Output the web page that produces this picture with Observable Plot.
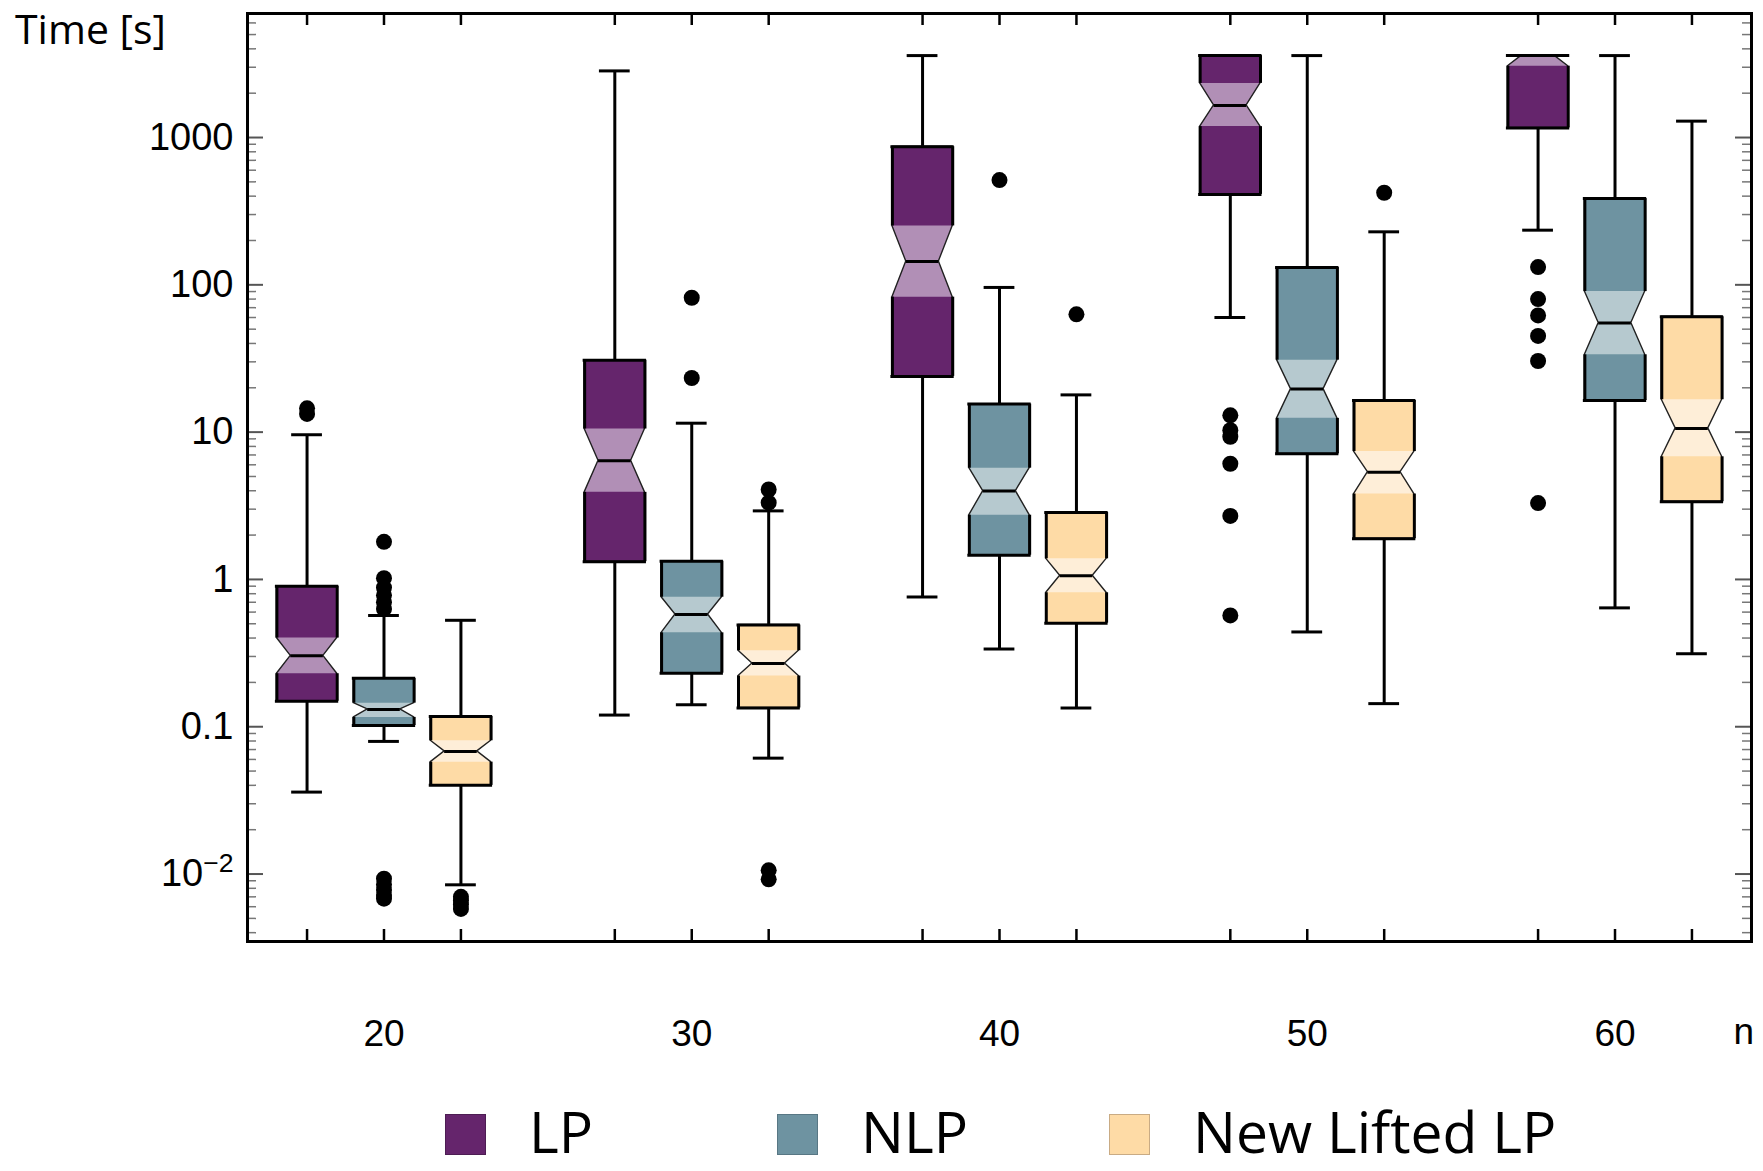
<!DOCTYPE html>
<html>
<head>
<meta charset="utf-8">
<script src="https://cdn.jsdelivr.net/npm/d3@7"></script>
<script src="https://cdn.jsdelivr.net/npm/@observablehq/plot@0.6"></script>
<style>
  html, body { margin: 0; padding: 0; background: white; }
  #wrap { position: relative; width: 1763px; height: 1171px; overflow: hidden; background: white; }
  #title { position: absolute; left: 15px; top: 0px; font-family: "Open Sans", sans-serif; font-size: 41px; line-height: normal; color: #000; white-space: nowrap; }
  .sw { position: absolute; width: 41px; height: 41px; box-sizing: border-box; }
  .lt { position: absolute; font-family: "Open Sans", sans-serif; font-size: 57px; line-height: normal; color: #000; white-space: nowrap; }
</style>
</head>
<body>
<div id="wrap">
  <div id="chart"></div>
  <div id="title">Time [s]</div>
  <div id="legend"></div>
</div>
<script>
// ---------- data ----------
const ns = [20, 30, 40, 50, 60];
const methods = ["LP", "NLP", "New Lifted LP"];
const yTicks = [0.01, 0.1, 1, 10, 100, 1000];

// LP
const lpLow     = [0.036, 0.12, 0.76, 60, 235];
const lpQ1      = [0.149, 1.32, 23.9, 411, 1162];
const lpNotchLo = [0.229, 3.9, 82.5, 1186, 3050];
const lpMedian  = [0.303, 6.4, 144, 1652, 3600];
const lpNotchHi = [0.40, 10.5, 251, 2330, 3600];
const lpQ3      = [0.90, 30.8, 866, 3600, 3600];
const lpHigh    = [9.6, 2833, 3600, 3600, 3600];
const lpOutliers = [[14.5, 13.3], [], [], [13.0, 10.3, 9.3, 6.1, 2.7, 0.57], [132, 80, 62, 45, 30.4, 3.3]];

// NLP
const nlpLow     = [0.0795, 0.141, 0.337, 0.44, 0.641];
const nlpQ1      = [0.102, 0.231, 1.46, 7.12, 16.4];
const nlpNotchLo = [0.1157, 0.434, 2.73, 12.4, 33.5];
const nlpMedian  = [0.131, 0.578, 3.98, 19.6, 55];
const nlpNotchHi = [0.1446, 0.757, 5.69, 30.8, 90];
const nlpQ3      = [0.213, 1.33, 15.5, 131, 385];
const nlpHigh    = [0.569, 11.5, 96, 3600, 3600];
const nlpOutliers = [[1.8, 1.02, 0.88, 0.78, 0.70, 0.63, 0.0093, 0.0085, 0.0078, 0.0072, 0.0068], [81.7, 23.3], [514], [], []];

// New Lifted LP
const newLow     = [0.00845, 0.0612, 0.134, 0.1435, 0.313];
const newQ1      = [0.040, 0.134, 0.505, 1.89, 3.37];
const newNotchLo = [0.0575, 0.221, 0.812, 3.80, 6.8];
const newMedian  = [0.068, 0.269, 1.06, 5.35, 10.6];
const newNotchHi = [0.0803, 0.328, 1.38, 7.38, 16.6];
const newQ3      = [0.1175, 0.49, 2.85, 16.4, 60.7];
const newHigh    = [0.528, 2.92, 17.9, 229, 1292];
const newOutliers = [[0.0070, 0.0066, 0.0062, 0.0058], [4.08, 3.32, 0.0106, 0.0092], [63.1], [422], []];

// ---------- styles ----------
const darkColor  = {"LP": "#65256c", "NLP": "#6e93a1", "New Lifted LP": "#fedba6"};
const lightColor = {"LP": "#b18fb6", "NLP": "#b6c9cf", "New Lifted LP": "#feeed8"};
const swatchBorder = {"LP": "#4d1d53", "NLP": "#587784", "New Lifted LP": "#c9ab84"};
const offsets = {"LP": -2.5, "NLP": 0, "New Lifted LP": 2.5};
const HW = 0.98, NW = 0.53, CW = 0.5;

const series = [
  {method: "LP", low: lpLow, q1: lpQ1, nlo: lpNotchLo, med: lpMedian, nhi: lpNotchHi, q3: lpQ3, high: lpHigh, out: lpOutliers},
  {method: "NLP", low: nlpLow, q1: nlpQ1, nlo: nlpNotchLo, med: nlpMedian, nhi: nlpNotchHi, q3: nlpQ3, high: nlpHigh, out: nlpOutliers},
  {method: "New Lifted LP", low: newLow, q1: newQ1, nlo: newNotchLo, med: newMedian, nhi: newNotchHi, q3: newQ3, high: newHigh, out: newOutliers}
];

const boxes = series.flatMap(s => ns.map((n, i) => ({
  method: s.method, n, x: n + offsets[s.method],
  low: s.low[i], q1: s.q1[i], nlo: s.nlo[i], med: s.med[i], nhi: s.nhi[i], q3: s.q3[i], high: s.high[i]
})));
const outlierRows = series.flatMap(s => ns.flatMap((n, i) => s.out[i].map(v => ({x: n + offsets[s.method], y: v}))));

const full = (b, k, y, c) => ({id: k, y, x1: b.x - HW, x2: b.x + HW, c});
const narrow = (b, k, y, c) => ({id: k, y, x1: b.x - NW, x2: b.x + NW, c});
const shapePts = boxes.flatMap((b, k) => [
  full(b, k, b.q1, darkColor[b.method]), full(b, k, b.nlo, darkColor[b.method]),
  narrow(b, k, b.med, darkColor[b.method]), full(b, k, b.nhi, darkColor[b.method]),
  full(b, k, b.q3, darkColor[b.method])
]);
const notchPts = boxes.flatMap((b, k) => [
  full(b, k, b.nlo, lightColor[b.method]), narrow(b, k, b.med, lightColor[b.method]),
  full(b, k, b.nhi, lightColor[b.method])
]);

const yDomain = [Math.pow(10, -2.458), Math.pow(10, 3.842)];
const minorTicks = d3.range(-3, 4).flatMap(e => d3.range(2, 10).map(m => m * Math.pow(10, e)))
  .filter(v => v > yDomain[0] && v < yDomain[1]);
const boxPositions = boxes.map(b => b.x);

// ---------- layout ----------
const W = 1763, H = 1090, mL = 247, mR = 12, mT = 13, mB = H - 941;
const frameW = W - mL - mR, frameH = H - mT - mB;

const svg = Plot.plot({
  width: W, height: H,
  marginLeft: mL, marginRight: mR, marginTop: mT, marginBottom: mB,
  x: {domain: [15.565, 64.435], axis: null},
  y: {type: "log", domain: yDomain, axis: null},
  color: {type: "identity"},
  style: {fontFamily: "'Liberation Sans', Arial, sans-serif", background: "white", color: "black"},
  marks: [
    // whiskers
    Plot.ruleX(boxes, {x: "x", y1: "q3", y2: "high", stroke: "black", strokeWidth: 3}),
    Plot.ruleX(boxes, {x: "x", y1: "low", y2: "q1", stroke: "black", strokeWidth: 3}),
    Plot.ruleY(boxes, {y: "high", x1: d => d.x - CW, x2: d => d.x + CW, stroke: "black", strokeWidth: 3}),
    Plot.ruleY(boxes, {y: "low", x1: d => d.x - CW, x2: d => d.x + CW, stroke: "black", strokeWidth: 3}),
    // notched boxes
    Plot.areaX(shapePts, {y: "y", x1: "x1", x2: "x2", z: "id", fill: "c", curve: "linear"}),
    Plot.areaX(notchPts, {y: "y", x1: "x1", x2: "x2", z: "id", fill: "c", curve: "linear"}),
    Plot.areaX(shapePts, {y: "y", x1: "x1", x2: "x2", z: "id", fill: "none", stroke: "#222", strokeWidth: 1.4, curve: "linear"}),
    Plot.ruleY(boxes, {y: "q1", x1: d => d.x - HW, x2: d => d.x + HW, stroke: "black", strokeWidth: 3, strokeLinecap: "square"}),
    Plot.ruleY(boxes, {y: "q3", x1: d => d.x - HW, x2: d => d.x + HW, stroke: "black", strokeWidth: 3, strokeLinecap: "square"}),
    Plot.ruleX(boxes, {x: d => d.x - HW, y1: "q1", y2: "nlo", stroke: "black", strokeWidth: 3}),
    Plot.ruleX(boxes, {x: d => d.x + HW, y1: "q1", y2: "nlo", stroke: "black", strokeWidth: 3}),
    Plot.ruleX(boxes, {x: d => d.x - HW, y1: "nhi", y2: "q3", stroke: "black", strokeWidth: 3}),
    Plot.ruleX(boxes, {x: d => d.x + HW, y1: "nhi", y2: "q3", stroke: "black", strokeWidth: 3}),
    Plot.ruleY(boxes, {y: "med", x1: d => d.x - NW, x2: d => d.x + NW, stroke: "black", strokeWidth: 3}),
    // outliers
    Plot.dot(outlierRows, {x: "x", y: "y", r: 8, fill: "black", stroke: "none"}),
    // inward ticks
    Plot.tickX(boxPositions, {x: d => d, insetTop: frameH - 12, stroke: "black", strokeWidth: 2.5}),
    Plot.tickX(boxPositions, {x: d => d, insetBottom: frameH - 12, stroke: "black", strokeWidth: 2.5}),
    Plot.tickY(yTicks, {y: d => d, insetRight: frameW - 16, stroke: "#555", strokeWidth: 2}),
    Plot.tickY(yTicks, {y: d => d, insetLeft: frameW - 16, stroke: "#555", strokeWidth: 2}),
    Plot.tickY(minorTicks, {y: d => d, insetRight: frameW - 9, stroke: "#777", strokeWidth: 1.5}),
    Plot.tickY(minorTicks, {y: d => d, insetLeft: frameW - 9, stroke: "#777", strokeWidth: 1.5}),
    // axes labels
    Plot.axisY(yTicks, {tickSize: 0, tickPadding: 14, fontSize: 38, label: null,
      tickFormat: d => d === 0.01 ? "10^-2" : d3.format("~g")(d)}),
    Plot.axisX(ns, {tickSize: 0, tickPadding: 78, fontSize: 37, label: null}),
    Plot.text(["n"], {frameAnchor: "bottom-right", text: d => d, textAnchor: "start", lineAnchor: "middle", dx: -18, dy: 91, fontSize: 37}),
    Plot.frame({stroke: "black", strokeWidth: 3})
  ]
});

// superscript exponent
d3.select(svg).selectAll("text").filter(function () { return this.textContent === "10^-2"; }).each(function () {
  const t = d3.select(this);
  t.text("10");
  t.append("tspan").attr("dy", "-0.55em").attr("font-size", "0.7em").text("\u22122");
});

document.getElementById("chart").appendChild(svg);

// legend
const legend = document.getElementById("legend");
methods.forEach((m, i) => {
  const left = 445 + i * 332;
  const sw = document.createElement("div");
  sw.className = "sw";
  sw.style.left = left + "px";
  sw.style.top = "1114px";
  sw.style.background = darkColor[m];
  sw.style.border = "1.5px solid " + swatchBorder[m];
  legend.appendChild(sw);
  const lt = document.createElement("div");
  lt.className = "lt";
  lt.style.left = (left + 84) + "px";
  lt.style.top = "1092px";
  lt.textContent = m;
  legend.appendChild(lt);
});
</script>
</body>
</html>
